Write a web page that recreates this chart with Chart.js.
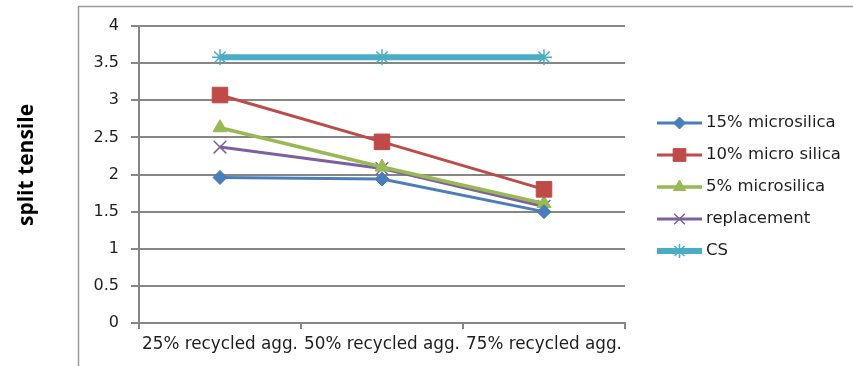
<!DOCTYPE html>
<html>
<head>
<meta charset="utf-8">
<script src="https://cdn.jsdelivr.net/npm/chart.js@4"></script>
<style>
  html, body { margin: 0; padding: 0; background: #fff; }
  #wrap { width: 853px; height: 366px; position: relative; }
</style>
</head>
<body>
<div id="wrap"><canvas id="c" width="853" height="366"></canvas></div>
<script>
// Split tensile strength by recycled aggregate content
const categories = ['25% recycled agg.', '50% recycled agg.', '75% recycled agg.'];
const microsilica15 = [1.96, 1.94, 1.50];
const microsilica10 = [3.07, 2.44, 1.80];
const microsilica5 = [2.63, 2.10, 1.61];
const replacement = [2.37, 2.08, 1.57];
const cs = [3.58, 3.58, 3.58];
const seriesNames = ['15% microsilica', '10% micro silica', '5% microsilica', 'replacement', 'CS'];
const yTicks = [0, 0.5, 1, 1.5, 2, 2.5, 3, 3.5, 4];
const axisTitle = 'split tensile';

const GRID = '#868686';
const TEXT = '#1e1e1e';
const FONT = 'DejaVu Sans';

function series(label, data, color, style, radius, width, legendRadius) {
  return {
    label, data,
    borderColor: color, backgroundColor: color,
    borderWidth: width,
    pointStyle: style, pointRadius: radius,
    pointBorderColor: color, pointBackgroundColor: color,
    pointBorderWidth: (style === 'crossRot' || style === 'star') ? 1.5 : 1,
    legendRadius,
    tension: 0, fill: false
  };
}

const datasets = [
  series(seriesNames[0], microsilica15, '#4A7EBB', 'rectRot', 7, 3, 6),
  series(seriesNames[1], microsilica10, '#BE4B48', 'rect', 11, 3, 9),
  series(seriesNames[2], microsilica5, '#98B954', 'triangle', 8, 3.5, 7),
  series(seriesNames[3], replacement, '#7D60A0', 'crossRot', 9, 3, 7.5),
  series(seriesNames[4], cs, '#4BACC6', 'star', 8, 6, 7)
];

// Outer frame around the plot
const framePlugin = {
  id: 'frame',
  beforeDraw(chart) {
    const ctx = chart.ctx;
    ctx.save();
    ctx.strokeStyle = '#9c9c9c';
    ctx.lineWidth = 1.5;
    ctx.strokeRect(78.5, 6.5, 900, 500);
    ctx.restore();
  }
};

// Rotated value-axis title
const titlePlugin = {
  id: 'axisTitle',
  afterDraw(chart) {
    const ctx = chart.ctx;
    ctx.save();
    ctx.translate(27, 165);
    ctx.rotate(-Math.PI / 2);
    ctx.font = 'bold 21px "Open Sans"';
    ctx.fillStyle = '#000';
    ctx.textAlign = 'center';
    ctx.textBaseline = 'middle';
    ctx.fillText(axisTitle, 0, 0);
    ctx.restore();
  }
};

// Legend entries: line segment with marker, then label
const legendPlugin = {
  id: 'lineLegend',
  afterDraw(chart) {
    const ctx = chart.ctx;
    ctx.save();
    chart.data.datasets.forEach((ds, i) => {
      const y = 123 + i * 32;
      ctx.strokeStyle = ds.borderColor;
      ctx.lineWidth = ds.borderWidth;
      ctx.beginPath();
      ctx.moveTo(657, y);
      ctx.lineTo(702, y);
      ctx.stroke();
      ctx.fillStyle = ds.pointBackgroundColor;
      ctx.strokeStyle = ds.pointBorderColor;
      ctx.lineWidth = ds.pointBorderWidth;
      Chart.helpers.drawPoint(ctx, {
        pointStyle: ds.pointStyle,
        radius: ds.legendRadius,
        rotation: 0,
        borderWidth: ds.pointBorderWidth
      }, 679.5, y);
      ctx.fillStyle = TEXT;
      ctx.font = '16.5px "' + FONT + '"';
      ctx.textAlign = 'left';
      ctx.textBaseline = 'middle';
      ctx.fillText(ds.label, 706, y);
    });
    ctx.restore();
  }
};

new Chart(document.getElementById('c'), {
  type: 'line',
  data: { labels: categories, datasets },
  options: {
    responsive: false,
    animation: false,
    devicePixelRatio: 1,
    layout: { padding: { top: 26, right: 228, bottom: 0, left: 0 } },
    plugins: { legend: { display: false }, tooltip: { enabled: false } },
    scales: {
      x: {
        type: 'category',
        offset: true,
        grid: { offset: true, drawOnChartArea: false, drawTicks: true, tickLength: 6, color: GRID, lineWidth: 2 },
        border: { color: GRID, width: 2 },
        ticks: { font: { family: FONT, size: 16.8 }, color: TEXT, maxRotation: 0, autoSkip: false, padding: 6 },
        afterFit(s) { s.height = 43; }
      },
      y: {
        min: 0, max: 4,
        afterBuildTicks(s) { s.ticks = yTicks.map(v => ({ value: v })); },
        ticks: { font: { family: FONT, size: 16 }, color: TEXT, padding: 12, callback: v => String(v) },
        grid: { color: GRID, lineWidth: 2, tickLength: 8 },
        border: { color: GRID, width: 2 },
        afterFit(s) { s.width = 139; }
      }
    }
  },
  plugins: [framePlugin, titlePlugin, legendPlugin]
});
</script>
</body>
</html>
